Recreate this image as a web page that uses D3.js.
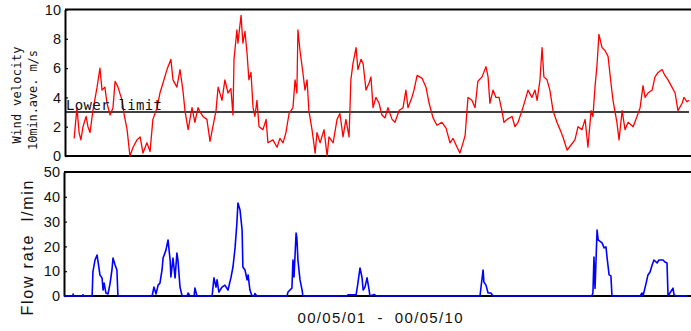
<!DOCTYPE html>
<html>
<head>
<meta charset="utf-8">
<script src="https://cdn.jsdelivr.net/npm/d3@7"></script>
<style>
  html, body { margin: 0; padding: 0; background: #fff; }
  svg { display: block; }
  text.pre { white-space: pre; }
</style>
</head>
<body>
<svg id="chart" width="691" height="331"></svg>
<script>
// ---- data (time in hours from 00/05/01 00:00, 10 days) ----
const xDomain = [0, 240];
const windTicks = [0, 2, 4, 6, 8, 10];
const flowTicks = [0, 10, 20, 30, 40, 50];
const lowerLimit = 3;
const xLabel = "00/05/01  -  00/05/10";
const windLabel1 = "Wind velocity";
const windLabel2 = "10min.ave. m/s";
const flowLabel = "Flow rate  l/min";
const limitLabel = "Lower limit";

// wind velocity (10 min average, m/s): [hour, value]
const wind = [
  [3.5,1.2],[4.6,3.3],[5.4,1.6],[6.1,1.1],[6.9,2.0],[8.1,2.7],[8.8,2.0],[9.6,1.6],
  [10.7,3.1],[12.3,4.7],[13.4,6.0],[14.2,4.5],[15.3,4.7],[16.1,3.6],[17.3,2.8],[18.4,3.3],
  [19.2,5.1],[20.3,4.7],[21.9,3.8],[22.6,2.9],[23.8,1.8],[24.9,0.0],[26.1,0.6],[27.6,1.1],
  [28.8,1.3],[29.9,0.2],[31.4,0.9],[32.6,0.3],[33.7,2.5],[35.3,3.3],[36.4,4.3],[37.6,5.0],
  [39.1,5.9],[40.6,6.6],[41.4,5.2],[42.9,4.7],[44.1,5.9],[45.2,4.5],[46.0,3.1],[47.2,1.8],
  [48.7,3.3],[49.8,2.3],[51.0,3.3],[51.8,3.0],[52.9,2.7],[54.4,2.5],[55.6,1.0],[56.7,2.0],
  [57.9,3.1],[58.7,4.7],[60.2,3.8],[61.3,5.2],[62.5,4.3],[63.6,4.6],[64.4,2.8],[64.8,6.6],
  [65.9,8.6],[66.3,7.7],[67.5,9.6],[68.2,7.7],[69.0,8.5],[69.8,7.0],[70.5,5.2],[71.3,5.7],
  [72.1,3.3],[72.8,2.7],[73.6,3.8],[74.4,2.0],[75.9,1.8],[77.1,2.5],[77.8,0.9],[79.7,1.1],
  [81.3,0.6],[82.4,1.2],[83.6,0.9],[84.7,1.6],[85.9,2.9],[87.4,3.3],[88.2,5.2],[88.9,4.3],
  [89.3,8.6],[90.1,7.2],[91.2,5.7],[92.0,4.5],[92.8,5.2],[93.5,3.1],[94.7,1.8],[95.9,0.2],
  [96.6,1.6],[97.8,0.9],[99.3,1.8],[100.5,0.0],[101.2,1.3],[102.8,0.9],[104.3,2.5],[105.4,2.9],
  [106.6,1.3],[107.7,2.5],[108.9,1.3],[109.6,5.2],[110.4,6.3],[111.6,7.4],[112.3,5.9],[113.5,6.6],
  [114.3,6.3],[115.4,4.5],[116.6,5.0],[117.3,5.4],[118.1,3.3],[119.2,4.0],[120.4,3.6],[121.5,2.8],
  [122.7,2.6],[123.8,3.3],[125.4,2.5],[126.5,2.3],[128.1,3.1],[129.6,3.3],[130.7,4.5],[131.5,3.3],
  [133.0,4.0],[133.8,4.5],[135.0,5.5],[136.9,5.3],[138.4,4.7],[139.6,3.6],[141.1,2.6],[142.6,2.1],
  [144.5,2.3],[146.1,1.9],[147.6,0.9],[148.8,1.2],[150.3,0.6],[151.4,0.2],[152.6,0.9],[153.4,1.4],
  [154.5,4.0],[156.0,3.8],[157.2,3.3],[158.3,5.1],[159.9,5.4],[161.4,6.1],[162.2,5.4],[162.9,3.6],
  [164.1,4.5],[165.2,4.0],[166.4,4.0],[167.5,3.1],[168.3,2.3],[169.5,2.5],[171.4,2.7],[172.5,2.0],
  [173.7,2.3],[175.2,3.1],[176.4,3.8],[177.5,4.5],[179.0,4.0],[180.2,4.5],[181.0,3.8],[182.1,5.2],
  [182.9,7.4],[183.6,5.4],[184.8,5.2],[185.9,4.5],[187.1,3.1],[188.6,2.3],[189.8,1.8],[190.9,1.3],
  [192.5,0.4],[194.0,0.75],[195.5,1.1],[196.7,2.0],[198.2,1.8],[199.4,2.5],[200.5,0.6],[201.7,3.1],
  [202.4,2.7],[203.2,4.7],[204.0,6.3],[204.7,8.3],[205.9,7.4],[207.0,7.2],[208.2,6.8],[209.3,5.0],
  [210.1,3.8],[211.6,2.3],[212.4,1.1],[213.6,3.1],[214.7,1.8],[215.9,2.3],[217.8,2.0],[219.3,2.7],
  [220.5,3.3],[221.6,4.8],[222.4,4.0],[223.5,4.3],[225.1,4.5],[226.2,5.4],[227.4,5.7],[228.9,5.9],
  [230.0,5.5],[231.2,5.2],[232.7,4.7],[233.9,4.3],[235.0,3.1],[236.6,3.6],[237.3,4.0],[238.5,3.7],
  [239.2,3.8]
];

// flow rate (l/min): [hour, value]
const flow = [
  [-0.4,0],[3.0,0],[3.1,0.8],[3.4,0],[6.5,0],[6.9,0.5],[7.3,0],[10.4,0],
  [10.7,9.7],[11.5,14.5],[12.3,16.5],[12.7,13.7],[13.4,8.5],[14.2,7.3],[14.6,2.4],[15.0,5.2],
  [15.7,1.2],[16.5,0.8],[17.3,5.2],[18.0,10.5],[18.4,15.3],[19.2,12.5],[19.9,10.5],[20.3,0],
  [33.4,0],[34.1,3.6],[34.9,0.8],[35.7,4.4],[36.4,5.2],[37.2,10.5],[37.6,15.3],[38.7,18.5],
  [39.5,22.6],[40.3,14.5],[40.6,7.7],[41.4,15.3],[42.2,7.3],[42.9,17.3],[43.3,14.5],[44.1,3.6],
  [44.9,0],[46.8,0],[47.2,1.2],[47.9,0],[49.5,0],[49.8,3.2],[50.6,0],[56.4,0],
  [57.1,7.3],[57.9,3.6],[58.3,6.5],[59.0,1.6],[60.2,3.6],[61.3,4.4],[62.5,2.4],[63.6,7.3],
  [64.4,11.7],[65.2,19.4],[65.9,29.4],[66.3,37.5],[67.1,34.7],[67.9,26.6],[68.2,11.7],[69.0,10.5],
  [69.8,6.5],[70.2,8.5],[70.9,2.4],[71.7,0],[72.5,0],[72.8,1.0],[73.6,0],[85.1,0],
  [85.5,1.6],[87.0,3.2],[87.4,14.5],[87.8,7.7],[88.6,25.4],[88.9,23.4],[89.3,14.5],[90.1,6.5],
  [90.9,2.4],[91.2,0],[108.1,0],[108.5,0.5],[111.6,0.5],[112.3,5.2],[113.1,11.3],[113.9,7.3],
  [114.3,2.4],[115.0,3.6],[115.8,7.3],[116.6,2.4],[116.9,0],[118.5,0.6],[119.3,0],[159.1,0],
  [159.5,3.6],[160.3,10.5],[160.6,5.6],[161.4,4.4],[162.2,1.2],[163.3,1.2],[164.1,0],[202.0,0],
  [202.4,1.2],[202.8,15.7],[203.2,3.0],[204.0,26.6],[204.4,22.6],[205.9,21.4],[206.7,19.4],[207.4,19.8],
  [207.8,15.7],[208.6,8.5],[209.3,8.1],[209.7,0],[220.5,0],[221.2,1.2],[221.6,0],[222.8,5.2],
  [223.5,8.5],[224.3,9.7],[225.1,12.5],[225.8,14.5],[227.0,13.3],[227.7,14.5],[229.3,14.5],[230.0,13.7],
  [230.8,13.3],[231.2,0],[233.1,3.2],[233.5,0.4],[234.7,0],[239.0,0]
];

// ---- drawing ----
const svg = d3.select("#chart");
const x = d3.scaleLinear().domain(xDomain).range([65, 691]);
const yW = d3.scaleLinear().domain([0, 10]).range([156, 9.5]);
const yF = d3.scaleLinear().domain([0, 50]).range([296, 172]);

const tickFont = "'Liberation Sans', Arial, sans-serif";

function frame(g, y, left, ticks) {
  g.append("line").attr("x1", left).attr("x2", 691)
    .attr("y1", y(y.domain()[1])).attr("y2", y(y.domain()[1]))
    .attr("stroke", "#000").attr("stroke-width", 2);
  g.append("line").attr("x1", left).attr("x2", 691)
    .attr("y1", y(0)).attr("y2", y(0))
    .attr("stroke", "#000").attr("stroke-width", 2);
  const ax = g.append("g").attr("transform", `translate(${left},0)`)
    .call(d3.axisLeft(y).tickValues(ticks).tickSizeInner(-3).tickSizeOuter(0).tickPadding(4));
  ax.select(".domain").attr("stroke", "#000").attr("stroke-width", 2);
  ax.selectAll(".tick line").attr("stroke", "#000").attr("stroke-width", 1.2);
  ax.selectAll(".tick text").attr("font-family", tickFont).attr("font-size", 14.5).attr("fill", "#111");
}

const gW = svg.append("g");
frame(gW, yW, 65, windTicks);
const gF = svg.append("g");
frame(gF, yF, 64, flowTicks);

gW.append("line").attr("x1", 65).attr("x2", 689)
  .attr("y1", yW(lowerLimit)).attr("y2", yW(lowerLimit))
  .attr("stroke", "#000").attr("stroke-width", 1.6);

gW.append("path").datum(wind)
  .attr("fill", "none").attr("stroke", "#ff0000").attr("stroke-width", 1.3)
  .attr("stroke-linejoin", "round")
  .attr("d", d3.line().x(d => x(d[0])).y(d => yW(d[1])));

gW.append("text").text(limitLabel)
  .attr("x", 66).attr("y", yW(lowerLimit) - 2.5)
  .attr("font-family", "'DejaVu Sans Mono', monospace").attr("font-size", 14)
  .attr("textLength", 96).attr("lengthAdjust", "spacing")
  .attr("fill", "#111");

gF.append("path").datum(flow)
  .attr("fill", "none").attr("stroke", "#0000ff").attr("stroke-width", 1.6)
  .attr("stroke-linejoin", "round")
  .attr("d", d3.line().x(d => x(d[0])).y(d => yF(d[1])));

svg.append("text").text(windLabel1)
  .attr("transform", "translate(21,95) rotate(-90)")
  .attr("text-anchor", "middle")
  .attr("font-family", "'DejaVu Sans Mono', monospace").attr("font-size", 12)
  .attr("textLength", 97).attr("lengthAdjust", "spacing").attr("fill", "#111");
svg.append("text").text(windLabel2).attr("class", "pre")
  .attr("transform", "translate(37,100) rotate(-90)")
  .attr("text-anchor", "middle")
  .attr("font-family", "'DejaVu Sans Mono', monospace").attr("font-size", 12)
  .attr("textLength", 100).attr("lengthAdjust", "spacing").attr("fill", "#111");
svg.append("text").text(flowLabel).attr("class", "pre")
  .attr("transform", "translate(33,248) rotate(-90)")
  .attr("text-anchor", "middle")
  .attr("font-family", tickFont).attr("font-size", 16)
  .attr("textLength", 135).attr("lengthAdjust", "spacing").attr("fill", "#111");

svg.append("text").text(xLabel).attr("class", "pre")
  .attr("x", 380).attr("y", 323)
  .attr("text-anchor", "middle")
  .attr("font-family", tickFont).attr("font-size", 15)
  .attr("textLength", 165).attr("lengthAdjust", "spacing")
  .attr("fill", "#111");
</script>
</body>
</html>
